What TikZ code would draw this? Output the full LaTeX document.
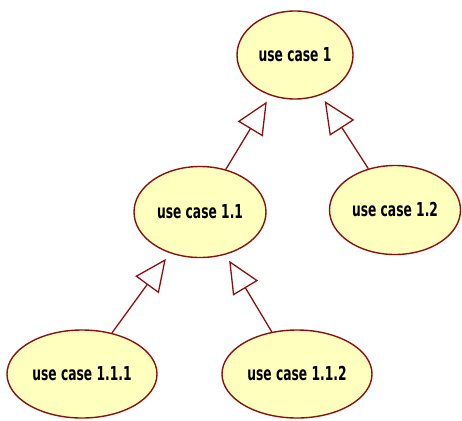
\documentclass[tikz,border=0pt]{standalone}
\usepackage{fontspec}
\setmainfont{DejaVu Sans}
\usetikzlibrary{arrows.meta,shapes.geometric}
\definecolor{ucfill}{HTML}{FFFFBE}
\definecolor{ucline}{HTML}{8E0F0F}
\newcommand{\uclabel}[1]{\scalebox{0.64}[1]{\fontsize{19.2}{22}\selectfont\bfseries #1}}
\tikzset{
  usecase/.style={ellipse, draw=ucline, fill=ucfill, line width=1.4pt, inner sep=0pt},
  generalize/.style={draw=ucline, line width=1.3pt,
    -{Triangle[open, length=32pt, width=29pt, fill=white, line width=1.3pt]},
    shorten >=7pt}
}
\begin{document}
\begin{tikzpicture}[x=1pt, y=-1pt]
  \useasboundingbox (0,0) rectangle (462,420);
  \node[usecase, minimum width=116pt, minimum height=88pt] (uc1)   at (295,55)  {\uclabel{use case 1}};
  \node[usecase, minimum width=132pt, minimum height=91pt] (uc11)  at (200,212) {\uclabel{use case 1.1}};
  \node[usecase, minimum width=131pt, minimum height=89pt] (uc12)  at (395,210) {\uclabel{use case 1.2}};
  \node[usecase, minimum width=150pt, minimum height=88pt] (uc111) at (82,374)  {\uclabel{use case 1.1.1}};
  \node[usecase, minimum width=150pt, minimum height=88pt] (uc112) at (297,374) {\uclabel{use case 1.1.2}};
  \draw[generalize] (uc11) -- (uc1);
  \draw[generalize] (uc12) -- (uc1);
  \draw[generalize] (uc111) -- (uc11);
  \draw[generalize] (uc112) -- (uc11);
\end{tikzpicture}
\end{document}
